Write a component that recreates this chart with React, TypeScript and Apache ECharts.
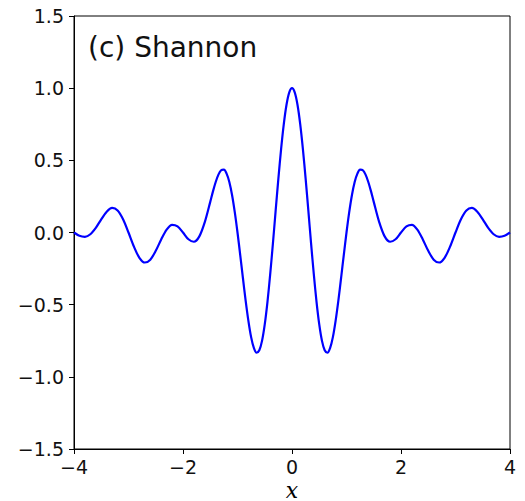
import React, { useEffect, useRef } from "react";
import * as echarts from "echarts";

const xs: number[] = [
  -4.0, -3.9, -3.8, -3.7, -3.6, -3.5, -3.4, -3.3, -3.2, -3.1,
  -3.0, -2.9, -2.8, -2.7, -2.6, -2.5, -2.4, -2.3, -2.2, -2.1,
  -2.0, -1.9, -1.8, -1.7, -1.6, -1.5, -1.45, -1.4, -1.35, -1.3, -1.25, -1.2, -1.15, -1.1, -1.05,
  -1.0, -0.95, -0.9, -0.85, -0.8, -0.75, -0.7, -0.65, -0.6, -0.55, -0.5, -0.45, -0.4, -0.35, -0.3, -0.25, -0.2, -0.15, -0.1, -0.05,
  0.0,
  0.05, 0.1, 0.15, 0.2, 0.25, 0.3, 0.35, 0.4, 0.45, 0.5, 0.55, 0.6, 0.65, 0.7, 0.75, 0.8, 0.85, 0.9, 0.95, 1.0,
  1.05, 1.1, 1.15, 1.2, 1.25, 1.3, 1.35, 1.4, 1.45, 1.5, 1.6, 1.7, 1.8, 1.9,
  2.0, 2.1, 2.2, 2.3, 2.4, 2.5, 2.6, 2.7, 2.8, 2.9,
  3.0, 3.1, 3.2, 3.3, 3.4, 3.5, 3.6, 3.7, 3.8, 3.9, 4.0,
];

const ys: number[] = [
  0.0, -0.023, -0.030, -0.012, 0.032, 0.091, 0.144, 0.170, 0.153, 0.092,
  0.0, -0.098, -0.175, -0.208, -0.188, -0.127, -0.048, 0.020, 0.053, 0.042,
  0.0, -0.047, -0.064, -0.027, 0.072, 0.212, 0.285, 0.350, 0.401, 0.431, 0.435, 0.408, 0.350, 0.260, 0.141,
  0.0, -0.156, -0.317, -0.473, -0.612, -0.725, -0.800, -0.833, -0.816, -0.751, -0.637, -0.480, -0.289, -0.075, 0.151, 0.373, 0.578, 0.753, 0.887, 0.971,
  1.0,
  0.971, 0.887, 0.753, 0.578, 0.373, 0.151, -0.075, -0.289, -0.480, -0.637, -0.751, -0.816, -0.833, -0.800, -0.725, -0.612, -0.473, -0.317, -0.156, 0.0,
  0.141, 0.260, 0.350, 0.408, 0.435, 0.431, 0.401, 0.350, 0.285, 0.212, 0.072, -0.027, -0.064, -0.047,
  0.0, 0.042, 0.053, 0.020, -0.048, -0.127, -0.188, -0.208, -0.175, -0.098,
  0.0, 0.092, 0.153, 0.170, 0.144, 0.091, 0.032, -0.012, -0.030, -0.023, 0.0,
];

const titleText = "(c) Shannon";
const xAxisName = "x";

const fmt = (v: number, digits: number) => {
  const s = Math.abs(v).toFixed(digits);
  return v < 0 ? "\u2212" + s : s;
};

export default function App() {
  const ref = useRef<HTMLDivElement>(null);
  useEffect(() => {
    if (!ref.current) return;
    const chart = echarts.init(ref.current, undefined, { renderer: "svg" });
    const data = xs.map((x, i) => [x, ys[i]]);
    const font = "DejaVu Sans";
    chart.setOption({
      animation: false,
      backgroundColor: "#ffffff",
      grid: {
        left: 74,
        top: 16,
        right: 15,
        bottom: 52,
        outerBoundsMode: "none",
        containLabel: false,
        show: true,
        borderColor: "#000000",
        borderWidth: 1,
        backgroundColor: "transparent",
      },
      xAxis: {
        type: "value",
        min: -4,
        max: 4,
        interval: 2,
        axisLine: { show: true, onZero: false, lineStyle: { color: "#000", width: 1 } },
        axisTick: { show: true, inside: false, length: 5, lineStyle: { color: "#000" } },
        axisLabel: {
          fontFamily: font,
          fontSize: 19,
          lineHeight: 19,
          color: "#111",
          margin: 8,
          formatter: (v: number) => fmt(v, 0),
        },
        splitLine: { show: false },
      },
      yAxis: {
        type: "value",
        min: -1.5,
        max: 1.5,
        interval: 0.5,
        axisLine: { show: true, onZero: false, lineStyle: { color: "#000", width: 1 } },
        axisTick: { show: true, inside: false, length: 5, lineStyle: { color: "#000" } },
        axisLabel: {
          fontFamily: font,
          fontSize: 19,
          color: "#111",
          margin: 10,
          formatter: (v: number) => fmt(v, 1),
        },
        splitLine: { show: false },
      },
      graphic: [
        {
          type: "text",
          left: 88,
          top: 33,
          style: {
            text: titleText,
            fontFamily: font,
            fontSize: 28,
            fill: "#111",
          },
        },
        {
          type: "text",
          x: 292,
          y: 490,
          style: {
            text: xAxisName,
            fontFamily: "DejaVu Serif",
            fontStyle: "italic",
            fontSize: 22,
            lineHeight: 14,
            fill: "#000",
            align: "center",
            verticalAlign: "middle",
          },
        },
      ],
      series: [
        {
          type: "line",
          data,
          smooth: 0.3,
          showSymbol: false,
          symbol: "none",
          lineStyle: { color: "#0000ff", width: 2.2 },
        },
      ],
    });
    return () => chart.dispose();
  }, []);
  return (
    <div
      ref={ref}
      style={{ position: "absolute", left: 0, top: 0, width: 525, height: 501 }}
    />
  );
}
